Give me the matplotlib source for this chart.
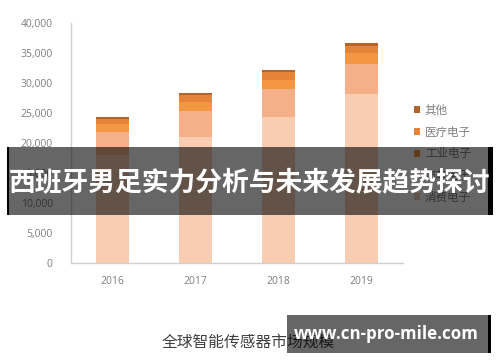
import matplotlib
matplotlib.use("Agg")
import matplotlib.pyplot as plt
from matplotlib.patches import Rectangle, Patch
import numpy as np

plt.rcParams['font.family'] = ['Noto Sans CJK SC', 'DejaVu Sans']

years = ['2016', '2017', '2018', '2019']
series_names = ['消费电子', '汽车电子', '工业电子', '医疗电子', '其他']
consumer = [18000, 21000, 24300, 28200]
auto = [3900, 4300, 4600, 4900]
industrial = [1200, 1500, 1600, 1800]
medical = [850, 1100, 1250, 1200]
other = [450, 450, 400, 450]
yticks = [0, 5000, 10000, 15000, 20000, 25000, 30000, 35000, 40000]
title = '全球智能传感器市场规模'
banner = '西班牙男足实力分析与未来发展趋势探讨'
watermark = 'www.cn-pro-mile.com'

colors = ['#F9CDB2', '#F6B089', '#F49742', '#E5833A', '#B3652C']
series = [consumer, auto, industrial, medical, other]

W, H = 500, 362
fig = plt.figure(figsize=(W / 100, H / 100), dpi=100)
fig.patch.set_facecolor('white')

def fx(px):
    return px / W

def fy(py):
    return 1 - py / H

ax = fig.add_axes([fx(70.7), fy(263.3), fx(403) - fx(70.7), fy(22.7) - fy(263.3)])
x = np.arange(len(years))
bottom = np.zeros(len(years))
handles = []
for name, vals, c in zip(series_names, series, colors):
    ax.bar(x, vals, width=0.4, bottom=bottom, color=c, edgecolor='none', label=name)
    bottom += np.array(vals)
    handles.append(Patch(facecolor=c, edgecolor='none', label=name))

ax.set_xlim(-0.5, 3.5)
ax.set_ylim(0, 40000)
ax.set_yticks(yticks)
ax.set_yticklabels([f'{v:,}' for v in yticks])
ax.set_xticks(x)
ax.set_xticklabels(years)
ax.tick_params(axis='both', length=0, labelsize=7.5, colors='#7f7f7f', labelfontfamily='Open Sans')
ax.tick_params(axis='y', pad=13)
ax.tick_params(axis='x', pad=9)
for s in ['top', 'right']:
    ax.spines[s].set_visible(False)
for s in ['left', 'bottom']:
    ax.spines[s].set_color('#d0d0d0')
    ax.spines[s].set_linewidth(1.0)

leg = fig.legend(handles=handles[::-1], loc='upper left',
                 bbox_to_anchor=(fx(414), fy(104)), frameon=False,
                 fontsize=8.3, handlelength=0.55, handleheight=0.55,
                 handletextpad=0.4, labelspacing=0.75, borderpad=0, borderaxespad=0)
for t in leg.get_texts():
    t.set_color('#808080')

fig.text(fx(248), fy(341.7), title, ha='center', va='center', fontsize=11.3, color='#404040')

# banner overlay
fig.patches.append(Rectangle((fx(9.3), fy(215)), fx(488) - fx(9.3), fy(146.7) - fy(215),
                             transform=fig.transFigure, facecolor='black', alpha=0.6,
                             edgecolor='none', zorder=10))
fig.patches.append(Rectangle((fx(6.7), fy(215)), fx(9.3) - fx(6.7), fy(146.7) - fy(215),
                             transform=fig.transFigure, facecolor='black',
                             edgecolor='none', zorder=10))
fig.patches.append(Rectangle((fx(488), fy(215)), fx(493) - fx(488), fy(146.7) - fy(215),
                             transform=fig.transFigure, facecolor='black',
                             edgecolor='none', zorder=10))
fig.text(fx(249), fy(183), banner, ha='center', va='center', fontsize=19.3,
         color='white', fontweight='bold', zorder=11)

# watermark
fig.patches.append(Rectangle((fx(286.7), fy(352.7)), fx(488) - fx(286.7), fy(315) - fy(352.7),
                             transform=fig.transFigure, facecolor='black', alpha=0.6,
                             edgecolor='none', zorder=10))
fig.patches.append(Rectangle((fx(488), fy(352.7)), fx(490.5) - fx(488), fy(315) - fy(352.7),
                             transform=fig.transFigure, facecolor='black',
                             edgecolor='none', zorder=10))
fig.text(fx(386.5), fy(334), watermark, ha='center', va='center', fontsize=12.2,
         color='white', fontweight='bold', family='Open Sans', zorder=11)

fig.savefig('out.png', dpi=100)
